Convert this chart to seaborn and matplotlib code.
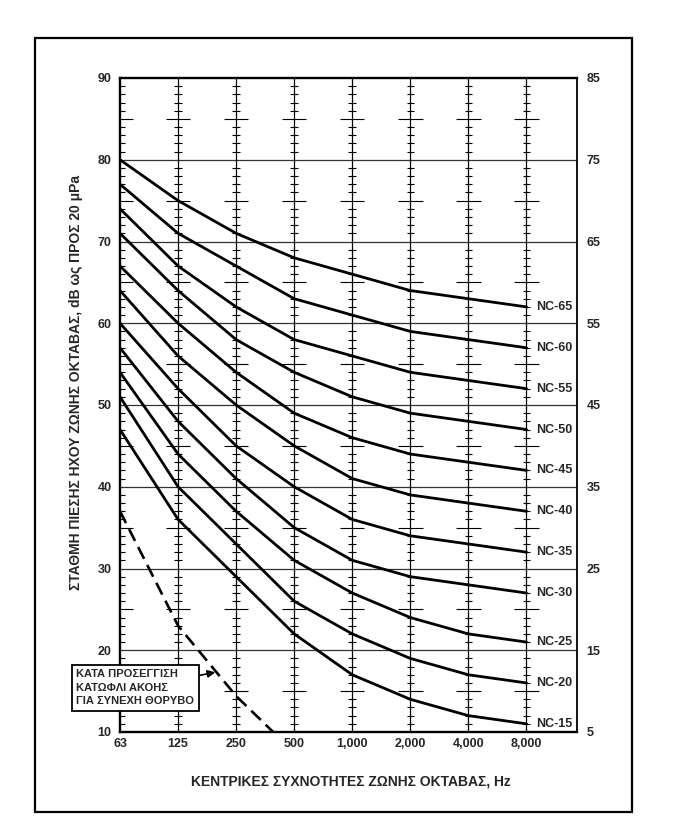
import pandas as pd
import matplotlib
matplotlib.use("Agg")
import matplotlib.pyplot as plt
import seaborn as sns
from matplotlib import font_manager
from matplotlib.patches import Rectangle

# ---- data ----
freq_labels = ['63', '125', '250', '500', '1,000', '2,000', '4,000', '8,000']
nc_names = ['NC-15', 'NC-20', 'NC-25', 'NC-30', 'NC-35', 'NC-40',
            'NC-45', 'NC-50', 'NC-55', 'NC-60', 'NC-65']
nc_15 = [47, 36, 29, 22, 17, 14, 12, 11]
nc_20 = [51, 40, 33, 26, 22, 19, 17, 16]
nc_25 = [54, 44, 37, 31, 27, 24, 22, 21]
nc_30 = [57, 48, 41, 35, 31, 29, 28, 27]
nc_35 = [60, 52, 45, 40, 36, 34, 33, 32]
nc_40 = [64, 56, 50, 45, 41, 39, 38, 37]
nc_45 = [67, 60, 54, 49, 46, 44, 43, 42]
nc_50 = [71, 64, 58, 54, 51, 49, 48, 47]
nc_55 = [74, 67, 62, 58, 56, 54, 53, 52]
nc_60 = [77, 71, 67, 63, 61, 59, 58, 57]
nc_65 = [80, 75, 71, 68, 66, 64, 63, 62]
threshold_db = [37, 23, 14.4, 7.5]   # hearing threshold, 63..500 Hz

left_ticks = [10, 20, 30, 40, 50, 60, 70, 80, 90]
right_ticks = [5, 15, 25, 35, 45, 55, 65, 75, 85]

nc_curves = [nc_15, nc_20, nc_25, nc_30, nc_35, nc_40,
             nc_45, nc_50, nc_55, nc_60, nc_65]

rows = []
for name, vals in zip(nc_names, nc_curves):
    for i, v in enumerate(vals):
        rows.append({'curve': name, 'octave': i, 'level': v})
df = pd.DataFrame(rows)
df_thr = pd.DataFrame({'octave': range(len(threshold_db)), 'level': threshold_db})

# ---- fonts ----
sns.set_style("white")
installed = {f.name for f in font_manager.fontManager.ttflist}
narrow = 'Liberation Sans Narrow' if 'Liberation Sans Narrow' in installed else 'Liberation Sans'
plt.rcParams['font.family'] = ['Liberation Sans', 'DejaVu Sans']

W, H = 682, 839
fig = plt.figure(figsize=(W / 100, H / 100), dpi=100)
ax = fig.add_axes([120 / W, 1 - 732 / H, (577 - 120) / W, (732 - 78) / H])
XMAX = 7.87
ax.set_xlim(0, XMAX)
ax.set_ylim(10, 90)

# grid: horizontal lines every 10 dB, vertical lines at each octave
ax.hlines(left_ticks[1:-1], 0, XMAX, color='#333333', lw=0.9, zorder=1)
ax.vlines(range(1, 8), 10, 90, color='black', lw=0.9, zorder=1)

# dB scale marks along each octave line
small = [d for d in range(11, 90) if d % 5 != 0]
big = [d for d in range(15, 90, 10)]
ax.hlines(small, 0, 0.085, color='black', lw=0.8, zorder=1)
ax.hlines(big, 0, 0.22, color='black', lw=0.8, zorder=1)
for i in range(1, 8):
    ax.hlines(small, i - 0.065, i + 0.065, color='black', lw=0.8, zorder=1)
    ax.hlines(big, i - 0.21, i + 0.21, color='black', lw=0.8, zorder=1)

# NC curves
sns.lineplot(data=df, x='octave', y='level', units='curve', estimator=None,
             color='black', lw=2.0, ax=ax, legend=False, zorder=3)
# threshold of hearing
sns.lineplot(data=df_thr, x='octave', y='level', color='black', lw=1.9,
             linestyle=(0, (5, 2.6)), ax=ax, legend=False, zorder=3)

for name, vals in zip(nc_names, nc_curves):
    ax.text(7.16, vals[-1], name, ha='left', va='center', fontsize=9,
            fontweight='bold', family=narrow)

# axes styling
for side in ['left', 'top', 'bottom']:
    ax.spines[side].set_linewidth(1.7)
ax.spines['right'].set_linewidth(1.3)
for s in ax.spines.values():
    s.set_color('black')

ax.set_xticks(range(len(freq_labels)), freq_labels)
ax.set_yticks(left_ticks)
ax.tick_params(axis='x', length=0, pad=4.5)
ax.tick_params(axis='y', length=0, pad=6)
for lab in ax.get_xticklabels() + ax.get_yticklabels():
    lab.set_fontfamily(narrow)
    lab.set_fontweight('bold')
    lab.set_fontsize(9)
ax.set_xlabel('')
ax.set_ylabel('')

ax2 = ax.twinx()
ax2.set_ylim(5, 85)
ax2.set_yticks(right_ticks)
ax2.tick_params(axis='y', length=0, pad=7)
for s in ax2.spines.values():
    s.set_visible(False)
for lab in ax2.get_yticklabels():
    lab.set_fontfamily(narrow)
    lab.set_fontweight('bold')
    lab.set_fontsize(9)

# annotation box for the dashed curve
ax.annotate('ΚΑΤΑ ΠΡΟΣΕΓΓΙΣΗ\nΚΑΤΩΦΛΙ ΑΚΟΗΣ\nΓΙΑ ΣΥΝΕΧΗ ΘΟΡΥΒΟ',
            xy=(1.64, 17.3), xytext=(-0.75, 15.4), ha='left', va='center',
            fontsize=8, fontweight='bold', family=narrow, linespacing=1.45,
            bbox=dict(boxstyle='square,pad=0.4', fc='white', ec='black', lw=1.3),
            arrowprops=dict(arrowstyle='-|>', color='black', lw=1.2,
                            shrinkA=0, shrinkB=0, mutation_scale=11),
            annotation_clip=False, zorder=5)

# axis titles
fig.text(76 / W, 1 - 382 / H, 'ΣΤΑΘΜΗ ΠΙΕΣΗΣ ΗΧΟΥ ΖΩΝΗΣ ΟΚΤΑΒΑΣ, dB ως ΠΡΟΣ 20 μPa',
         rotation=90, ha='center', va='center', fontsize=10, fontweight='bold')
fig.text(351 / W, 1 - 782 / H, 'ΚΕΝΤΡΙΚΕΣ ΣΥΧΝΟΤΗΤΕΣ ΖΩΝΗΣ ΟΚΤΑΒΑΣ, Hz',
         ha='center', va='center', fontsize=10, fontweight='bold')

# outer frame
fig.patches.append(Rectangle((35 / W, 1 - 812 / H), (632 - 35) / W, (812 - 38) / H,
                             transform=fig.transFigure, fill=False,
                             ec='black', lw=1.6))

fig.savefig('out.png', dpi=100)
